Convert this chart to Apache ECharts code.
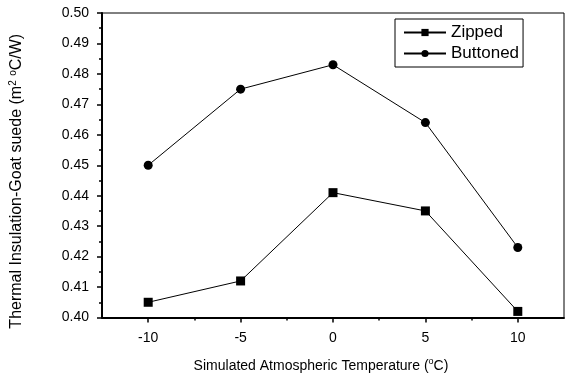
<!DOCTYPE html>
<html>
<head>
<meta charset="utf-8">
<script src="https://cdn.jsdelivr.net/npm/echarts@6/dist/echarts.min.js"></script>
<style>
  html, body { margin: 0; padding: 0; background: #fff; }
  #chart { width: 569px; height: 378px; }
</style>
</head>
<body>
<div id="chart"></div>
<script>
const temps = [-10, -5, 0, 5, 10]
const zipped = [0.405, 0.412, 0.441, 0.435, 0.402]
const buttoned = [0.450, 0.475, 0.483, 0.464, 0.423]
const xMajor = [-10, -5, 0, 5, 10]
const xMinor = [-7.5, -2.5, 2.5, 7.5]

const font = 'Liberation Sans, Arial, sans-serif'
const pair = (ys) => temps.map((t, i) => [t, ys[i]])

const chart = echarts.init(document.getElementById('chart'))

chart.setOption({
  animation: false,
  textStyle: { fontFamily: font, color: '#000' },
  grid: {
    left: 101, right: 5, top: 13, bottom: 59,
    show: true, borderColor: '#000', borderWidth: 1
  },
  legend: {
    orient: 'vertical',
    left: 395, top: 19,
    padding: [5, 4, 5, 8],
    itemGap: 4,
    itemWidth: 42,
    itemHeight: 9,
    borderColor: '#000', borderWidth: 1,
    backgroundColor: '#fff',
    textStyle: { fontSize: 17, color: '#000', fontFamily: font },
    data: ['Zipped', 'Buttoned']
  },
  xAxis: [
    {
      type: 'value', min: -12.5, max: 12.5,
      name: '{t|Simulated Atmospheric Temperature (}{s|o}{t|C)}',
      nameLocation: 'middle', nameGap: 40,
      nameTextStyle: {
        padding: [0, 24, 0, 0],
        rich: {
          t: { fontSize: 14, fontFamily: font, color: '#000' },
          s: { fontSize: 9, fontFamily: font, color: '#000', verticalAlign: 'top', padding: [0, 0, 8, 0] }
        }
      },
      axisLine: { onZero: false, lineStyle: { color: '#000', width: 2 } },
      axisTick: { customValues: xMajor, length: 5, lineStyle: { color: '#000', width: 1.5 } },
      axisLabel: { customValues: xMajor, fontSize: 14, color: '#000', margin: 14 },
      splitLine: { show: false }
    },
    {
      type: 'value', min: -12.5, max: 12.5, position: 'bottom',
      axisLine: { show: false, onZero: false },
      axisTick: { customValues: xMinor, length: 3, lineStyle: { color: '#000', width: 1.5 } },
      axisLabel: { show: false },
      splitLine: { show: false }
    }
  ],
  yAxis: {
    type: 'value', min: 0.40, max: 0.50, interval: 0.01,
    name: '{t|Thermal Insulation-Goat suede (m}{s|2}{t| }{s|o}{t|C/W)}',
    nameLocation: 'middle', nameGap: 76,
    nameTextStyle: {
      padding: [0, 32, 0, 0],
      rich: {
        t: { fontSize: 16, fontFamily: font, color: '#000' },
        s: { fontSize: 10, fontFamily: font, color: '#000', verticalAlign: 'top', padding: [0, 0, 8, 0] }
      }
    },
    axisLine: { onZero: false, lineStyle: { color: '#000', width: 2 } },
    axisTick: { length: 5, lineStyle: { color: '#000', width: 1.5 } },
    minorTick: { show: true, splitNumber: 2, length: 3, lineStyle: { color: '#000', width: 1.5 } },
    axisLabel: { fontSize: 14, color: '#000', margin: 13, formatter: v => v.toFixed(2) },
    splitLine: { show: false }
  },
  series: [
    { name: 'Zipped', data: pair(zipped), symbol: 'rect', symbolSize: 9 },
    { name: 'Buttoned', data: pair(buttoned), symbol: 'circle', symbolSize: 9 }
  ].map(o => ({
    ...o,
    type: 'line',
    xAxisIndex: 0,
    itemStyle: { color: '#000' },
    lineStyle: { color: '#000', width: 1 }
  }))
})
</script>
</body>
</html>
